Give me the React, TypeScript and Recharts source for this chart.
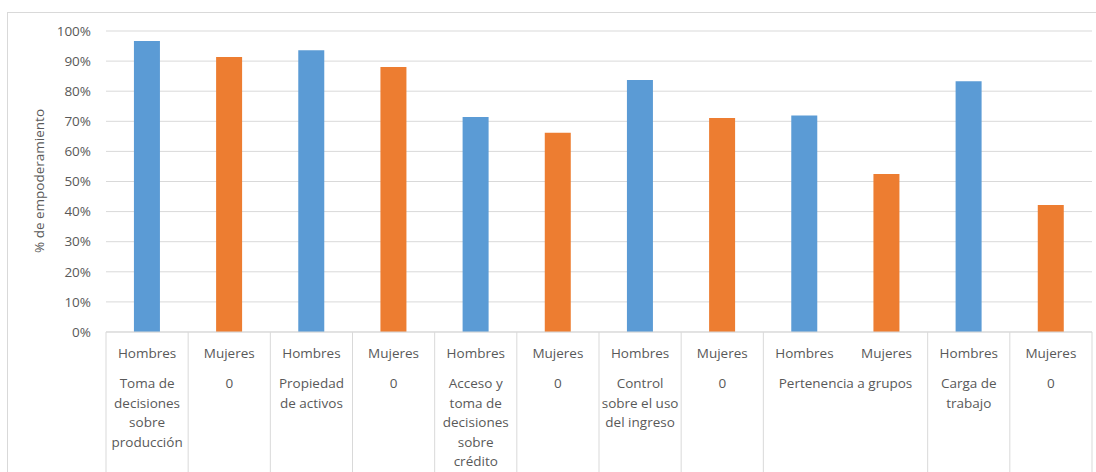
import React from 'react';
import { BarChart, Bar, XAxis, YAxis, CartesianGrid, Cell } from 'recharts';

const categories = ['Hombres', 'Mujeres', 'Hombres', 'Mujeres', 'Hombres', 'Mujeres', 'Hombres', 'Mujeres', 'Hombres', 'Mujeres', 'Hombres', 'Mujeres'];
const groupLabels = [
  'Toma de\ndecisiones\nsobre\nproducción',
  '0',
  'Propiedad\nde activos',
  '0',
  'Acceso y\ntoma de\ndecisiones\nsobre\ncrédito',
  '0',
  'Control\nsobre el uso\ndel ingreso',
  '0',
  'Pertenencia a grupos',
  '',
  'Carga de\ntrabajo',
  '0',
];
const groupSpans = [1, 1, 1, 1, 1, 1, 1, 1, 2, 0, 1, 1];
const values = [96.7, 91.4, 93.6, 88.0, 71.4, 66.2, 83.7, 71.1, 71.9, 52.5, 83.3, 42.2];
const yTicks = [0, 10, 20, 30, 40, 50, 60, 70, 80, 90, 100];

const BLUE = '#5B9BD5';
const ORANGE = '#ED7D31';
const TEXT = '#595959';
const GRID = '#d9d9d9';
const FONT = '"Open Sans", sans-serif';

const W = 1096;
const H = 472;
const LEFT = 106;
const RIGHT = 4;
const TOP = 31;
const XAXIS_H = 140;
const BAND = (W - LEFT - RIGHT) / categories.length;

const data = categories.map((c, i) => ({ key: `${c}-${i}`, value: values[i] }));

const AxisTick = (props: any) => {
  const { x, y, payload } = props;
  const i = payload.index as number;
  const half = BAND / 2;
  const span = groupSpans[i];
  const lines = groupLabels[i] ? groupLabels[i].split('\n') : [];
  const gx = span === 2 ? x + half : x;
  return (
    <g>
      {span !== 0 && (
        <line x1={x - half} x2={x - half} y1={y} y2={y + 200} stroke={GRID} strokeWidth={1} />
      )}
      {i === categories.length - 1 && (
        <line x1={x + half} x2={x + half} y1={y} y2={y + 200} stroke={GRID} strokeWidth={1} />
      )}
      <text x={x} y={y + 21.3} dy="0.355em" textAnchor="middle" fill={TEXT} fontSize={13.5} fontFamily={FONT}>
        {categories[i]}
      </text>
      {lines.map((l, k) => (
        <text key={k} x={gx} y={y + 51.3 + k * 19.5} dy="0.355em" textAnchor="middle" fill={TEXT} fontSize={13.5} fontFamily={FONT}>
          {l}
        </text>
      ))}
    </g>
  );
};

export default function App() {
  return (
    <div style={{ position: 'absolute', left: 0, top: 0, width: W, height: H, overflow: 'hidden', background: '#fff' }}>
      <div style={{ position: 'absolute', left: 7, top: 12, width: 1200, height: 600, border: `1px solid ${GRID}` }} />
      <div style={{ position: 'absolute', left: 0, top: 0 }}>
        <BarChart width={W} height={H} data={data} margin={{ top: TOP, right: RIGHT, left: 0, bottom: 0 }} barCategoryGap="34%">
          <CartesianGrid horizontal vertical={false} stroke={GRID} strokeWidth={1} />
          <XAxis
            dataKey="key"
            height={XAXIS_H}
            interval={0}
            tickLine={false}
            tickSize={0}
            tickMargin={0}
            axisLine={{ stroke: GRID, strokeWidth: 1 }}
            tick={<AxisTick />}
          />
          <YAxis
            width={LEFT}
            domain={[0, 100]}
            ticks={yTicks}
            axisLine={false}
            tickLine={false}
            tickMargin={9}
            tickFormatter={(v: number) => `${v}%`}
            tick={{ fill: TEXT, fontSize: 13.5, fontFamily: FONT }}
            label={{
              content: () => (
                <text x={39} y={181} dy="0.355em" transform="rotate(-90 39 181)" textAnchor="middle" fill={TEXT} fontSize={13.5} fontFamily={FONT}>
                  % de empoderamiento
                </text>
              ),
            }}
          />
          <Bar dataKey="value" isAnimationActive={false}>
            {data.map((d, i) => (
              <Cell key={d.key} fill={i % 2 === 0 ? BLUE : ORANGE} />
            ))}
          </Bar>
        </BarChart>
      </div>
    </div>
  );
}
